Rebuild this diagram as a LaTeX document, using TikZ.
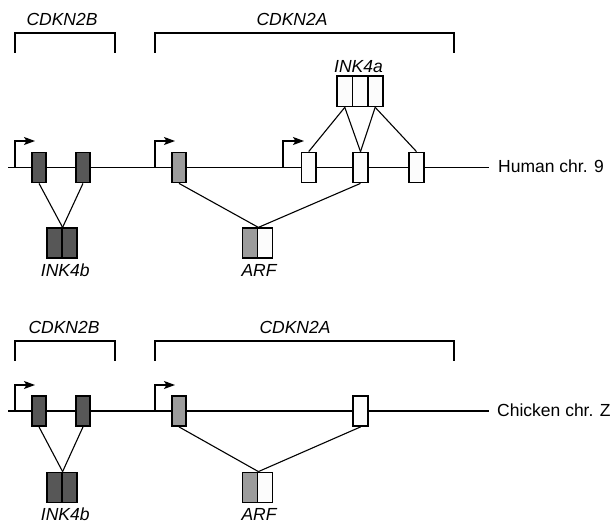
\documentclass[tikz,border=0pt]{standalone}
\usepackage{fontspec}
\setmainfont{Liberation Sans}
\usetikzlibrary{arrows.meta}
\definecolor{darkex}{HTML}{575757}
\definecolor{grayex}{HTML}{9C9C9C}
\definecolor{whiteex}{HTML}{FCFCFC}
\tikzset{
  chrom/.style={line width=1.7pt},
  bracket/.style={line width=1.8pt},
  exon/.style={draw, line width=1.8pt, rectangle, inner sep=0pt, minimum width=14.5pt, minimum height=30pt},
  cell/.style={draw, line width=1.8pt, rectangle, inner sep=0pt, minimum width=15pt, minimum height=30pt},
  dk/.style={fill=darkex},
  gy/.style={fill=grayex},
  wt/.style={fill=whiteex},
  link/.style={line width=1.1pt},
  prom/.style={line width=1.1pt, -{Stealth[length=11pt,width=8pt,inset=2.5pt]}},
  lab/.style={inner sep=0pt, anchor=base, font=\fontsize{17.5}{20}\selectfont\itshape},
  chrlab/.style={inner sep=0pt, anchor=west, font=\fontsize{17.5}{20}\selectfont},
}
\begin{document}
\begin{tikzpicture}[x=1pt,y=-1pt]
\useasboundingbox (0,0) rectangle (614,526);
% ===== Human =====
\node[lab] (l2b) at (62,26) {CDKN2B};
\node[lab] (l2a) at (292,26) {CDKN2A};
\draw[bracket] (15,53) -- (15,33) -- (115,33) -- (115,53);
\draw[bracket] (155,53) -- (155,33) -- (454,33) -- (454,53);
\draw[chrom] (8,167.5) -- (489,167.5);
\node[chrlab] (hchr) at (498,166.5) {Human chr. 9};
\draw[prom] (15,167.5) |- (35,141);
\draw[prom] (155,167.5) |- (175,141);
\draw[prom] (283,167.5) |- (304,141);
\node[exon,dk] (h1) at (39,167.5) {};
\node[exon,dk] (h2) at (83,167.5) {};
\node[exon,gy] (h3) at (179,167.5) {};
\node[exon,wt] (h4) at (308.7,167.5) {};
\node[exon,wt] (h5) at (360.5,167.5) {};
\node[exon,wt] (h6) at (416.5,167.5) {};
% INK4a
\node[cell,wt,minimum width=15.2pt,minimum height=30.5pt] (a1) at (344.8,91.2) {};
\node[cell,wt,minimum width=15.2pt,minimum height=30.5pt] (a2) at (360,91.2) {};
\node[cell,wt,minimum width=15.2pt,minimum height=30.5pt] (a3) at (375.2,91.2) {};
\node[lab] (l4a) at (358.5,72.3) {INK4a};
\draw[link] (a1.south) -- (h4.north);
\draw[link] (a1.south) -- (h5.north);
\draw[link] (a3.south) -- (h5.north);
\draw[link] (a3.south) -- (h6.north);
% INK4b
\node[cell,dk] (b1) at (54.2,243.3) {};
\node[cell,dk] (b2) at (69.2,243.3) {};
\node[lab] (l4b) at (65.3,276.7) {INK4b};
\draw[link] (h1.south) -- (b1.north east);
\draw[link] (h2.south) -- (b1.north east);
% ARF
\node[cell,gy] (r1) at (250,243.3) {};
\node[cell,wt] (r2) at (265,243.3) {};
\node[lab] (larf) at (259,276.7) {ARF};
\draw[link] (h3.south) -- (r1.north east);
\draw[link] (h5.south) -- (r1.north east);
% ===== Chicken =====
\node[lab] (c2b) at (64,333.3) {CDKN2B};
\node[lab] (c2a) at (295,333.3) {CDKN2A};
\draw[bracket] (15,361) -- (15,340.7) -- (115,340.7) -- (115,361);
\draw[bracket] (155,361) -- (155,340.7) -- (454,340.7) -- (454,361);
\draw[chrom] (8,411) -- (489,411);
\node[chrlab] (cchr) at (497,410) {Chicken chr. Z};
\draw[prom] (15,411) |- (35,385);
\draw[prom] (155,411) |- (175,385);
\node[exon,dk] (c1) at (39,411) {};
\node[exon,dk] (c2) at (83,411) {};
\node[exon,gy] (c3) at (179,411) {};
\node[exon,wt] (c4) at (360.6,411) {};
% INK4b
\node[cell,dk] (cb1) at (54.2,487.5) {};
\node[cell,dk] (cb2) at (69.2,487.5) {};
\node[lab] (cl4b) at (65.3,520.7) {INK4b};
\draw[link] (c1.south) -- (cb1.north east);
\draw[link] (c2.south) -- (cb1.north east);
% ARF
\node[cell,gy] (cr1) at (250,487.5) {};
\node[cell,wt] (cr2) at (265,487.5) {};
\node[lab] (clarf) at (259,520.7) {ARF};
\draw[link] (c3.south) -- (cr1.north east);
\draw[link] (c4.south) -- (cr1.north east);
\end{tikzpicture}
\end{document}
